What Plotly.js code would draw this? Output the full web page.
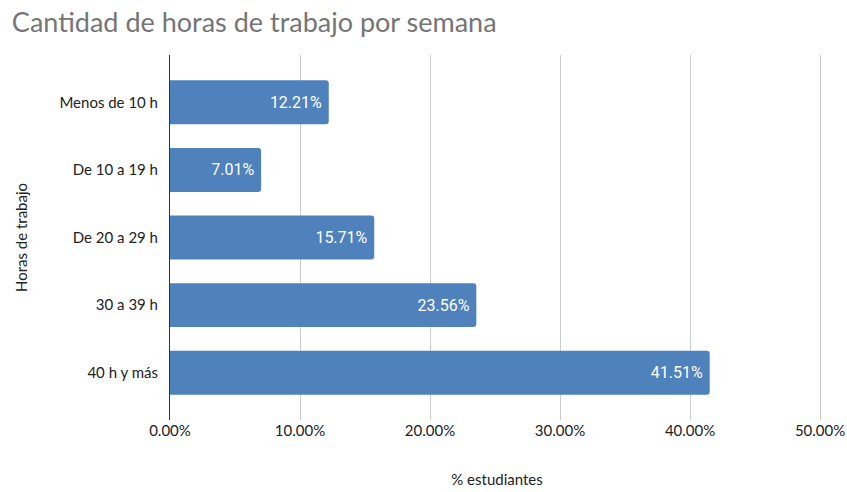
<!DOCTYPE html>
<html>
<head>
<meta charset="utf-8">
<script src="https://cdn.plot.ly/plotly-3.0.1.min.js"></script>
<style>
  html, body { margin: 0; padding: 0; background: #fff; }
  #chart { width: 847px; height: 492px; }
</style>
</head>
<body>
<div id="chart"></div>
<script>
const categories = ['Menos de 10 h', 'De 10 a 19 h', 'De 20 a 29 h', '30 a 39 h', '40 h y más'];
const percents = [12.21, 7.01, 15.71, 23.56, 41.51];
const xTicks = [0, 10, 20, 30, 40, 50];

const LABEL_FONT = 'Lato, "Open Sans", sans-serif';

const bars = {
  type: 'bar',
  orientation: 'h',
  y: categories,
  x: percents,
  // trailing nbsp keeps the label a little off the bar end, like the original
  text: percents.map(v => v.toFixed(2) + '%\u00a0'),
  textposition: 'inside',
  insidetextanchor: 'end',
  textfont: {family: 'Roboto, sans-serif', size: 16, color: '#ffffff'},
  marker: {color: '#4f81bd', cornerradius: 3},
  hoverinfo: 'none'
};

const layout = {
  width: 847,
  height: 492,
  // right edge a bit past 50% so the last gridline is still drawn
  margin: {l: 170, r: 23, t: 55, b: 72},
  paper_bgcolor: '#ffffff',
  plot_bgcolor: '#ffffff',
  showlegend: false,
  bargap: 0.35,
  title: {
    text: 'Cantidad de horas de trabajo por semana',
    x: 0.014, xanchor: 'left',
    y: 0.955, yanchor: 'middle',
    font: {family: LABEL_FONT, size: 27, color: '#757575'}
  },
  xaxis: {
    range: [0, 50.3],
    tickvals: xTicks,
    ticktext: xTicks.map(v => v.toFixed(2) + '%'),
    showgrid: true,
    gridcolor: '#cccccc',
    zeroline: false,
    ticks: '',
    tickfont: {family: LABEL_FONT, size: 15, color: '#222222'},
    title: {text: '% estudiantes', font: {family: LABEL_FONT, size: 15, color: '#222222'}, standoff: 36}
  },
  yaxis: {
    categoryorder: 'array',
    categoryarray: categories,
    range: [4.7, -0.7],
    showline: true,
    linecolor: '#333333',
    linewidth: 1,
    ticks: '',
    ticklabelstandoff: 8,
    tickfont: {family: LABEL_FONT, size: 15, color: '#222222'},
    title: {text: 'Horas de trabajo', font: {family: LABEL_FONT, size: 15, color: '#222222'}, standoff: 28}
  }
};

Plotly.newPlot('chart', [bars], layout, {displayModeBar: false, staticPlot: true});
</script>
</body>
</html>
